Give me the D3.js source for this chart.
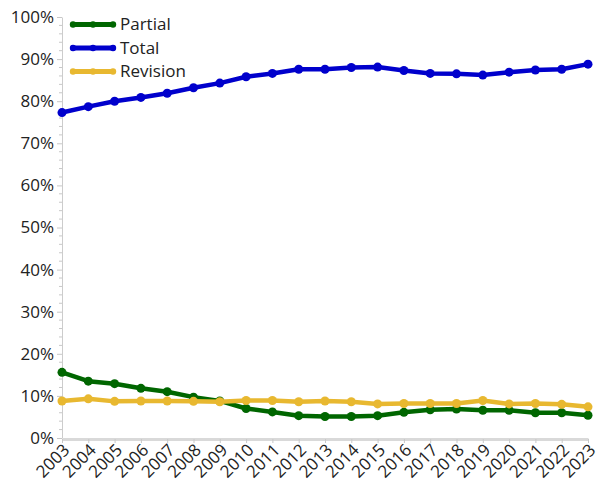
<!DOCTYPE html>
<html><head><meta charset="utf-8">
<script src="https://cdn.jsdelivr.net/npm/d3@7"></script>
<style>body{margin:0;background:#fff}svg{display:block}text{font-family:"Open Sans","Noto Sans",sans-serif}</style>
</head><body>
<svg id="c" width="600" height="484"></svg>
<script>
const years = ["2003","2004","2005","2006","2007","2008","2009","2010","2011","2012","2013","2014","2015","2016","2017","2018","2019","2020","2021","2022","2023"];
const partial = [15.6,13.5,12.9,11.8,11.0,9.7,8.8,7.0,6.2,5.3,5.1,5.1,5.3,6.1,6.7,6.9,6.6,6.6,6.0,6.0,5.4];
const total = [77.3,78.7,80.0,80.9,81.9,83.2,84.3,85.8,86.6,87.6,87.6,88.0,88.1,87.3,86.6,86.5,86.2,86.9,87.4,87.6,88.8];
const revision = [8.8,9.3,8.7,8.8,8.8,8.7,8.6,8.9,8.9,8.6,8.8,8.6,8.1,8.2,8.2,8.2,8.9,8.1,8.2,8.0,7.4];
const seriesNames = ["Partial","Total","Revision"];
const seriesColors = ["#006600","#0000CC","#E8B830"];
const yTicks = [0,10,20,30,40,50,60,70,80,90,100];

(function(){
const svg = d3.select("#c");
const mL = 62, mR = 588, mT = 17, mB = 438;
const FS = 17;
const x = d3.scalePoint().domain(years).range([mL, mR]);
const y = d3.scaleLinear().domain([0,100]).range([mB, mT]);

const minor = d3.range(0, 101, 2).filter(v => v % 10 !== 0);
svg.append("g").selectAll("line").data(minor).join("line")
  .attr("x1", mL - 3).attr("x2", mL).attr("y1", d => y(d)).attr("y2", d => y(d))
  .attr("stroke", "#c8c8c8").attr("stroke-width", 1);

const yAxis = svg.append("g").attr("transform", `translate(${mL},0)`)
  .call(d3.axisLeft(y).tickValues(yTicks).tickFormat(d => d + "%").tickSize(5).tickSizeOuter(0).tickPadding(3));
yAxis.select(".domain").attr("stroke", "#cccccc");
yAxis.selectAll(".tick line").attr("stroke", "#c8c8c8");
yAxis.selectAll("text").attr("font-size", FS).attr("fill", "#222").attr("font-family", '"Open Sans","Noto Sans",sans-serif');

const xAxis = svg.append("g").attr("transform", `translate(0,${mB + 1})`)
  .call(d3.axisBottom(x).tickSize(4).tickSizeOuter(0).tickPadding(4));
xAxis.select(".domain").attr("stroke", "#d9d9d9").attr("stroke-width", 3);
xAxis.selectAll(".tick line").attr("stroke", "#c8c8c8");
xAxis.selectAll("text").attr("font-size", FS).attr("fill", "#222")
  .attr("font-family", '"Open Sans","Noto Sans",sans-serif')
  .attr("text-anchor", "end").attr("dy", "0.35em")
  .attr("transform", "translate(4,8) rotate(-45)").attr("x", 0).attr("y", 0);

const data = [partial, total, revision];
const line = d3.line().x((d, i) => x(years[i])).y(d => y(d));
data.forEach((vals, k) => {
  const g = svg.append("g");
  g.append("path").datum(vals).attr("d", line).attr("fill", "none")
    .attr("stroke", seriesColors[k]).attr("stroke-width", 4.5).attr("stroke-linejoin", "round");
  g.selectAll("circle").data(vals).join("circle")
    .attr("cx", (d, i) => x(years[i])).attr("cy", d => y(d)).attr("r", 4.5).attr("fill", seriesColors[k]);
});

const lg = svg.append("g");
seriesNames.forEach((name, k) => {
  const yy = 24.5 + k * 23.5;
  lg.append("line").attr("x1", 71).attr("x2", 115).attr("y1", yy).attr("y2", yy)
    .attr("stroke", seriesColors[k]).attr("stroke-width", 5);
  [73, 93, 113].forEach(cx => lg.append("circle").attr("cx", cx).attr("cy", yy).attr("r", 3.2).attr("fill", seriesColors[k]));
  lg.append("text").attr("x", 120).attr("y", yy).attr("dy", "0.35em").attr("font-size", FS).attr("fill", "#222").text(name);
});
})();
</script>
</body></html>
